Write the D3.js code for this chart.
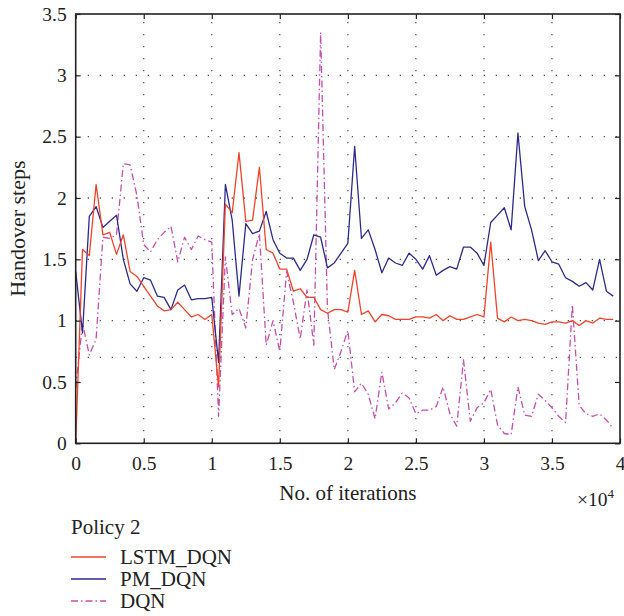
<!DOCTYPE html>
<html><head><meta charset="utf-8">
<script src="https://cdn.jsdelivr.net/npm/d3@7"></script>
<style>body{margin:0;background:#fff}svg{display:block}text{font-family:"Liberation Serif","Times New Roman",serif;fill:#222}</style>
</head><body><svg id="c" width="624" height="616"></svg>
<script>
// iterations (x 10^4)
const iterations = [0,0.05,0.1,0.15,0.2,0.25,0.3,0.35,0.4,0.45,0.5,0.55,0.6,0.65,0.7,0.75,0.8,0.85,0.9,0.95,
1,1.05,1.1,1.15,1.2,1.25,1.3,1.35,1.4,1.45,1.5,1.55,1.6,1.65,1.7,1.75,1.8,1.85,1.9,1.95,
2,2.05,2.1,2.15,2.2,2.25,2.3,2.35,2.4,2.45,2.5,2.55,2.6,2.65,2.7,2.75,2.8,2.85,2.9,2.95,
3,3.05,3.1,3.15,3.2,3.25,3.3,3.35,3.4,3.45,3.5,3.55,3.6,3.65,3.7,3.75,3.8,3.85,3.9,3.95];
const lstmDqn = [0,1.58,1.53,2.11,1.70,1.72,1.54,1.70,1.40,1.36,1.28,1.20,1.12,1.08,1.09,1.15,1.09,1.03,1.05,1.01,
1.05,0.46,1.95,1.88,2.37,1.81,1.82,2.25,1.58,1.55,1.42,1.42,1.24,1.26,1.19,1.19,1.09,1.06,1.09,1.09,
1.07,1.41,1.05,1.08,0.99,1.05,1.04,1.01,1.01,1.01,1.03,1.03,1.02,1.05,1.00,1.04,1.01,1.01,1.03,1.05,
1.03,1.64,1.02,0.99,1.03,1.00,1.01,1.00,0.98,0.97,0.99,0.99,0.98,1.00,0.96,1.00,0.98,1.02,1.01,1.01];
const pmDqn = [1.40,0.90,1.85,1.93,1.76,1.81,1.86,1.50,1.30,1.24,1.35,1.33,1.20,1.19,1.09,1.25,1.29,1.17,1.18,1.18,
1.19,0.66,2.11,1.82,1.20,1.79,1.71,1.73,1.89,1.66,1.55,1.51,1.51,1.41,1.50,1.70,1.68,1.43,1.47,1.55,
1.63,2.42,1.67,1.74,1.58,1.39,1.51,1.47,1.45,1.55,1.50,1.42,1.53,1.37,1.41,1.44,1.42,1.60,1.60,1.55,
1.45,1.80,1.86,1.92,1.74,2.53,1.93,1.74,1.49,1.57,1.48,1.46,1.35,1.32,1.28,1.31,1.25,1.50,1.24,1.20];
const dqn = [0.45,0.98,0.72,0.85,1.68,1.67,1.70,2.28,2.27,2.02,1.62,1.56,1.66,1.72,1.77,1.48,1.68,1.58,1.69,1.66,
1.64,0.22,1.52,1.05,1.10,0.94,1.50,1.71,0.80,1.00,0.75,1.40,1.15,0.85,1.25,0.80,3.35,1.10,0.60,0.75,
0.92,0.42,0.49,0.40,0.20,0.58,0.28,0.33,0.41,0.37,0.24,0.27,0.27,0.30,0.46,0.24,0.14,0.68,0.18,0.29,
0.33,0.44,0.15,0.08,0.07,0.46,0.23,0.22,0.40,0.35,0.29,0.22,0.17,1.13,0.31,0.24,0.22,0.24,0.19,0.12];
const seriesNames = ["LSTM_DQN","PM_DQN","DQN"];
const xTicks = [0,0.5,1,1.5,2,2.5,3,3.5,4];
const xTickLabels = ["0","0.5","1","1.5","2","2.5","3","3.5","4"];
const yTicks = [0,0.5,1,1.5,2,2.5,3,3.5];
const yTickLabels = ["0","0.5","1","1.5","2","2.5","3","3.5"];
const yGrid = [0.7,1,1.5,2,2.5,3];
const xGrid = [0.5,1,1.5,2,2.5,3,3.5];
const legendTitle = "Policy 2";

const colors = ["#f2432a","#2e2a8c","#c54fae"];
const dashes = [null,null,"7,3,1.5,3"];
const svg = d3.select("#c");
const L=75.7,R=620,T=14,B=443.3;
const x = d3.scaleLinear().domain([0,4]).range([L,R]);
const y = d3.scaleLinear().domain([0,3.5]).range([B,T]);

const g = svg.append("g");
// grid
g.selectAll(".hg").data(yGrid).join("line").attr("x1",L).attr("x2",R)
 .attr("y1",d=>y(d)).attr("y2",d=>y(d)).attr("stroke","#555").attr("stroke-width",1.3).attr("stroke-dasharray","1.3,10.7");
g.selectAll(".vg").data(xGrid).join("line").attr("y1",B).attr("y2",T)
 .attr("x1",d=>x(d)).attr("x2",d=>x(d)).attr("stroke","#555").attr("stroke-width",1.3).attr("stroke-dasharray","1.3,10.7");

// lines
const data = [lstmDqn,pmDqn,dqn];
const line = d3.line().x((d,i)=>x(iterations[i])).y(d=>y(d));
[2,1,0].forEach(k=>{
  g.append("path").datum(data[k]).attr("d",line).attr("fill","none")
   .attr("stroke",colors[k]).attr("stroke-width",1.3).attr("stroke-linejoin","round")
   .attr("stroke-dasharray",dashes[k]);
});

// axes with inward ticks
const tl=5;
const axB = d3.axisBottom(x).tickValues(xTicks).tickFormat((d,i)=>xTickLabels[i]).tickSizeInner(-tl).tickSizeOuter(0).tickPadding(tl+8);
const axT = d3.axisTop(x).tickValues(xTicks).tickFormat("").tickSizeInner(-tl).tickSizeOuter(0);
const axL = d3.axisLeft(y).tickValues(yTicks).tickFormat((d,i)=>yTickLabels[i]).tickSizeInner(-tl).tickSizeOuter(0).tickPadding(tl+4);
const axR = d3.axisRight(y).tickValues(yTicks).tickFormat("").tickSizeInner(-tl).tickSizeOuter(0);
function style(s){s.selectAll("path").remove();s.selectAll("line").attr("stroke","#222").attr("stroke-width",1.2);s.selectAll("text").attr("font-size",19.5).attr("font-family","Liberation Serif").attr("fill","#222");}
svg.append("g").attr("transform",`translate(0,${B})`).call(axB).call(style);
svg.append("g").attr("transform",`translate(0,${T})`).call(axT).call(style);
svg.append("g").attr("transform",`translate(${L},0)`).call(axL).call(style);
svg.append("g").attr("transform",`translate(${R},0)`).call(axR).call(style);
svg.append("rect").attr("x",L).attr("y",T).attr("width",R-L).attr("height",B-T).attr("fill","none").attr("stroke","#222").attr("stroke-width",1.6);

// titles
svg.append("text").attr("x",(L+R)/2).attr("y",500).attr("text-anchor","middle").attr("font-size",21).text("No. of iterations");
const ex = svg.append("text").attr("x",577).attr("y",506).attr("font-size",19.5);
ex.append("tspan").text("\u00d710");
ex.append("tspan").attr("dy",-8).attr("font-size",13).text("4");
svg.append("text").attr("transform",`translate(25,${(T+B)/2}) rotate(-90)`).attr("text-anchor","middle").attr("font-size",22).text("Handover steps");

// legend
svg.append("text").attr("x",71).attr("y",534).attr("font-size",21).text(legendTitle);
const ly=[557,579,601];
seriesNames.forEach((n,k)=>{
  svg.append("line").attr("x1",71).attr("x2",106).attr("y1",ly[k]).attr("y2",ly[k]).attr("stroke",colors[k]).attr("stroke-width",1.4).attr("stroke-dasharray",dashes[k]);
  svg.append("text").attr("x",120).attr("y",ly[k]+7).attr("font-size",21).text(n);
});
</script></body></html>
